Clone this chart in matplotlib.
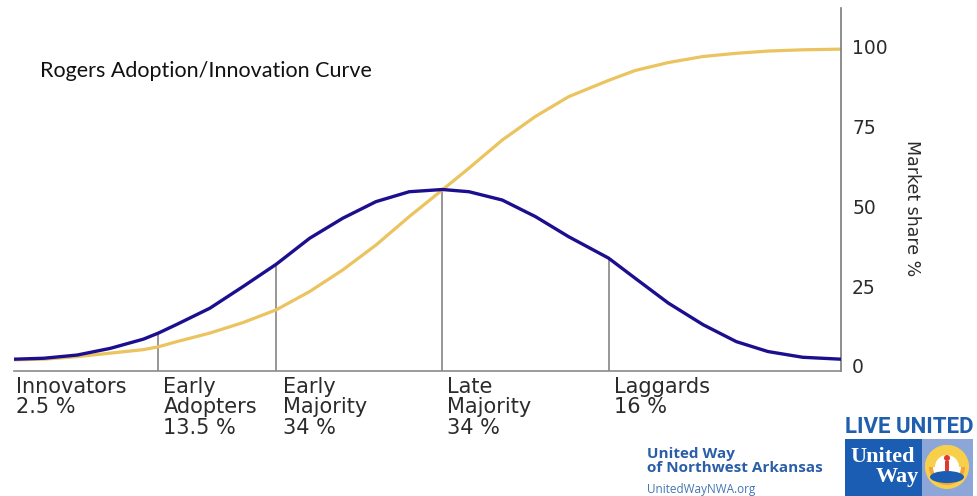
import matplotlib
matplotlib.use("Agg")
import matplotlib.pyplot as plt
from matplotlib.patches import Rectangle, Circle, Wedge, Ellipse
from matplotlib.transforms import Affine2D

# position along the adoption timeline (in standard deviations from the mean)
x_pos = [-2.58, -2.40, -2.20, -2.00, -1.80, -1.71, -1.60, -1.40, -1.20, -1.00,
         -0.80, -0.60, -0.40, -0.20, 0.00, 0.16, 0.36, 0.56, 0.76, 1.00,
         1.16, 1.36, 1.57, 1.77, 1.96, 2.17, 2.40]

# bell curve: adopters per period
adopters = [2.1, 2.4, 3.4, 5.5, 8.4, 10.3, 13.0, 18.1, 24.9, 31.9,
            40.0, 46.3, 51.5, 54.6, 55.3, 54.6, 52.0, 46.8, 40.5, 33.8,
            27.5, 19.7, 12.9, 7.6, 4.5, 2.7, 2.1]

# s-curve: cumulative market share %
market_share = [1.9, 2.1, 2.9, 4.0, 5.1, 6.0, 7.6, 10.3, 13.6, 17.6,
                23.3, 30.1, 37.9, 46.8, 55.2, 62.0, 70.8, 78.2, 84.4, 89.5,
                92.6, 95.1, 97.0, 98.0, 98.7, 99.1, 99.3]

boundaries = [-1.71, -1.00, 0.00, 1.00]
groups = ["Innovators\n2.5 %", "Early\nAdopters\n13.5 %", "Early\nMajority\n34 %",
          "Late\nMajority\n34 %", "Laggards\n16 %"]
y_ticks = [0, 25, 50, 75, 100]

W, H = 978, 496
fig = plt.figure(figsize=(W / 100, H / 100), dpi=100)
ax = fig.add_axes([14 / W, 1 - 371 / H, (841 - 14) / W, (371 - 8) / H])

for b in boundaries:
    top = adopters[x_pos.index(b)]
    ax.plot([b, b], [-1.6, top], color="#7a7a7a", lw=1.1, zorder=1)

ax.plot(x_pos, market_share, color="#ebc35f", lw=2.3, zorder=2, solid_capstyle="butt")
ax.plot(x_pos, adopters, color="#1c0f8f", lw=2.4, zorder=3, solid_capstyle="butt")

ax.set_xlim(-2.58, 2.40)
ax.set_ylim(-1.6, 112.2)
ax.set_xticks([])
ax.yaxis.tick_right()
ax.set_yticks(y_ticks)
ax.tick_params(axis="y", length=0, pad=8, labelsize=13.5, labelcolor="#2b2b2b")
for lab in ax.get_yticklabels():
    lab.set_family("DejaVu Sans")
for side in ["top", "left"]:
    ax.spines[side].set_visible(False)
ax.spines["right"].set_color("#7a7a7a")
ax.spines["bottom"].set_color("#8a8a8a")
ax.spines["right"].set_linewidth(1.2)
ax.spines["bottom"].set_linewidth(1.2)

# group labels under the baseline
starts = [-2.58] + boundaries
offsets = [2, 5, 7, 5, 5]
for s, off, txt in zip(starts, offsets, groups):
    ax.annotate(txt, xy=(s, 0), xycoords=("data", "axes fraction"),
                xytext=(off, -6), textcoords="offset pixels",
                ha="left", va="top", fontsize=15, color="#2b2b2b",
                family="DejaVu Sans", linespacing=1.02)

fig.text(40 / W, 1 - 77 / H, "Rogers Adoption/Innovation Curve", fontsize=15.5,
         family="Lato", color="#111111", ha="left", va="baseline")
fig.text(912 / W, 1 - 208 / H, "Market share %", rotation=270, fontsize=12.5,
         family="DejaVu Sans", color="#2b2b2b", ha="center", va="center")

# United Way logo block (pixel coordinates, origin top-left)
pix = Affine2D().scale(1, -1).translate(0, H)
fig.add_artist(Rectangle((845, 439), 77, 57, transform=pix, color="#1b5db3", lw=0))
fig.add_artist(Rectangle((922, 439), 51, 57, transform=pix, color="#8da6da", lw=0))
cx, cy = 947, 467
for r, c in [(22, "#f7cf4a"), (18, "#f3a33a"), (14, "#ffffff")]:
    fig.add_artist(Circle((cx, cy), r, transform=pix, color=c, lw=0))
fig.add_artist(Wedge((cx, cy), 22, 180, 360, width=10, transform=pix, color="#f7cf4a", lw=0))
fig.add_artist(Ellipse((cx, cy + 10), 34, 12, transform=pix, color="#1b5db3", lw=0))
fig.add_artist(Circle((cx, cy - 9), 3, transform=pix, color="#e03a2e", lw=0))
fig.add_artist(Rectangle((cx - 2, cy - 6), 4, 10, transform=pix, color="#e03a2e", lw=0))

fig.text(845 / W, 1 - 433 / H, "LIVE UNITED", fontsize=16, family="Roboto",
         weight="bold", color="#1f5fae", ha="left", va="baseline")
fig.text(883 / W, 1 - 462 / H, "United", fontsize=16, family="Liberation Serif",
         weight="bold", color="white", ha="center", va="baseline")
fig.text(897 / W, 1 - 482 / H, "Way", fontsize=16, family="Liberation Serif",
         weight="bold", color="white", ha="center", va="baseline")
fig.text(647 / W, 1 - 472 / H, "United Way\nof Northwest Arkansas", fontsize=11,
         family="Open Sans", weight="bold", color="#2a5ea8", ha="left",
         va="baseline", linespacing=1.0)
fig.text(647 / W, 1 - 493 / H, "UnitedWayNWA.org", fontsize=8.5,
         family="Open Sans", color="#4574b4", ha="left", va="baseline")

fig.savefig("out.png", dpi=100)
